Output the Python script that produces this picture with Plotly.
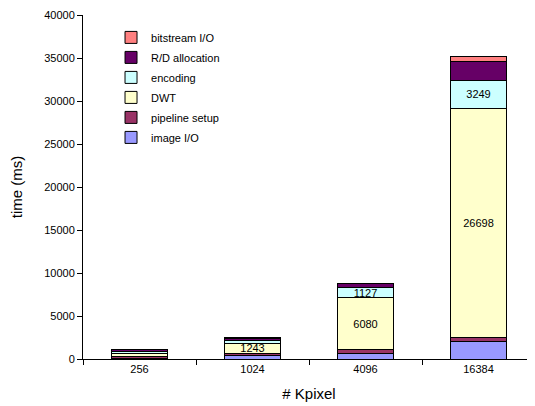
import plotly.graph_objects as go

categories = ["256", "1024", "4096", "16384"]
image_io = [90, 350, 660, 1980]
pipeline_setup = [200, 250, 390, 500]
dwt = [300, 1243, 6080, 26698]
encoding = [280, 330, 1127, 3249]
rd_allocation = [200, 220, 500, 2200]
bitstream_io = [50, 50, 80, 500]

dwt_labels = ["", "1243", "6080", "26698"]
enc_labels = ["", "", "1127", "3249"]

series = [
    ("image I/O", image_io, "#9999FF", None),
    ("pipeline setup", pipeline_setup, "#993366", None),
    ("DWT", dwt, "#FFFFCC", dwt_labels),
    ("encoding", encoding, "#CCFFFF", enc_labels),
    ("R/D allocation", rd_allocation, "#660066", None),
    ("bitstream I/O", bitstream_io, "#FF8080", None),
]

FONT = "Liberation Sans, Arial, sans-serif"

fig = go.Figure()
n = len(series)
for i, (name, vals, color, labels) in enumerate(series):
    fig.add_trace(go.Bar(
        name=name, x=categories, y=vals,
        legendgroup=name,
        legendrank=1000 + (n - i),
        marker=dict(color=color, line=dict(color="black", width=1)),
        text=labels if labels else None,
        textposition="inside" if labels else "none",
        insidetextanchor="middle",
        textangle=0,
        textfont=dict(color="black", size=11, family=FONT),
        width=0.5,
    ))

fig.update_layout(
    barmode="stack",
    width=527, height=398,
    margin=dict(l=75, r=0, t=7, b=47),
    plot_bgcolor="white", paper_bgcolor="white",
    font=dict(family=FONT, color="black", size=11),
    uniformtext=dict(minsize=11, mode="show"),
    legend=dict(
        x=0.062, y=0.977, xanchor="left", yanchor="top",
        traceorder="grouped",
        font=dict(size=11),
        bgcolor="rgba(0,0,0,0)",
        itemwidth=30,
        tracegroupgap=1,
    ),
    xaxis=dict(
        title=dict(text="# Kpixel", font=dict(size=15), standoff=14),
        showline=True, linecolor="black", linewidth=1,
        ticks="outside", tickson="boundaries", ticklen=5, tickcolor="black",
        tickfont=dict(size=11),
    ),
    yaxis=dict(
        title=dict(text="time (ms)", font=dict(size=15), standoff=17),
        range=[0, 40000], dtick=5000, tickformat="d",
        showline=True, linecolor="black", linewidth=1,
        ticks="outside", ticklen=5, tickcolor="black",
        showgrid=False, zeroline=False,
        tickfont=dict(size=11),
    ),
)

fig.write_html("out.html")
